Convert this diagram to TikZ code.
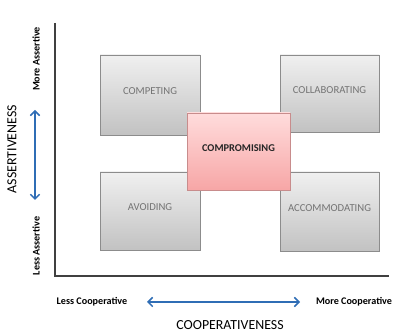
\documentclass[tikz,border=0pt]{standalone}
\usepackage{fontspec}
\setmainfont{Carlito}
\usetikzlibrary{arrows.meta}
\definecolor{boxtop}{HTML}{F0F0F0}
\definecolor{boxbot}{HTML}{C2C2C2}
\definecolor{boxline}{HTML}{8C8C8C}
\definecolor{boxtext}{HTML}{747474}
\definecolor{pinktop}{HTML}{FFDCDC}
\definecolor{pinkbot}{HTML}{F7A6A6}
\definecolor{pinkline}{HTML}{C88C8C}
\definecolor{arrowblue}{HTML}{2F6DB5}
\definecolor{axisgray}{HTML}{404040}
\tikzset{
  modebox/.style={draw=boxline, line width=0.6pt, top color=boxtop, bottom color=boxbot, inner sep=0pt},
  midbox/.style={draw=pinkline, line width=0.6pt, top color=pinktop, bottom color=pinkbot, inner sep=0pt},
  modetext/.style={text=boxtext, font=\fontsize{8}{9}\selectfont},
  midtext/.style={text=black!85, font=\fontsize{7.8}{9}\selectfont\bfseries},
  axisline/.style={draw=axisgray, line width=1.1pt},
  bluearrow/.style={draw=arrowblue, line width=1.1pt, {Straight Barb[length=3.5pt,width=7pt]}-{Straight Barb[length=3.5pt,width=7pt]}},
  smalllabel/.style={font=\fontsize{7.6}{8}\selectfont\bfseries},
  biglabel/.style={font=\fontsize{10.4}{12}\selectfont}
}
\begin{document}
\begin{tikzpicture}[x=0.75pt,y=-0.75pt]
\useasboundingbox (0,0) rectangle (400,334);
% axes
\coordinate (org) at (55,276);
\coordinate (ytop) at (55,23);
\coordinate (xend) at (389,276);
\draw[axisline] (ytop) -- (org) -- (xend);
% boxes
\node[modebox, minimum width=75pt, minimum height=60pt] (competing) at (150,95) {};
\node[modetext] (competingt) at (150,91) {COMPETING};
\node[modebox, minimum width=74.25pt, minimum height=57.75pt] (collab) at (329.5,93.5) {};
\node[modetext] (collabt) at (329.5,90) {COLLABORATING};
\node[modebox, minimum width=75pt, minimum height=58.5pt] (avoiding) at (150,211) {};
\node[modetext] (avoidingt) at (150,207) {AVOIDING};
\node[modebox, minimum width=74.25pt, minimum height=59.25pt] (accom) at (329.5,211.5) {};
\node[modetext] (accomt) at (329.5,208) {ACCOMMODATING};
\node[midbox, minimum width=77.25pt, minimum height=57.75pt] (comprom) at (238.5,151.5) {};
\node[midtext] (compromt) at (238.5,148) {COMPROMISING};
% vertical axis labels
\node[biglabel, rotate=90] (assert) at (12,149) {ASSERTIVENESS};
\node[smalllabel, rotate=90] (moreA) at (36,59) {More Assertive};
\node[smalllabel, rotate=90] (lessA) at (36,246) {Less Assertive};
\coordinate (vaTop) at (35,110);
\coordinate (vaBot) at (35,200);
\draw[bluearrow] (vaTop) -- (vaBot);
% horizontal axis labels
\node[smalllabel] (lessC) at (92,302) {Less Cooperative};
\node[smalllabel] (moreC) at (354,302) {More Cooperative};
\node[biglabel] (coop) at (230,325) {COOPERATIVENESS};
\coordinate (haL) at (147,302);
\coordinate (haR) at (300,302);
\draw[bluearrow] (haL) -- (haR);
\end{tikzpicture}
\end{document}
